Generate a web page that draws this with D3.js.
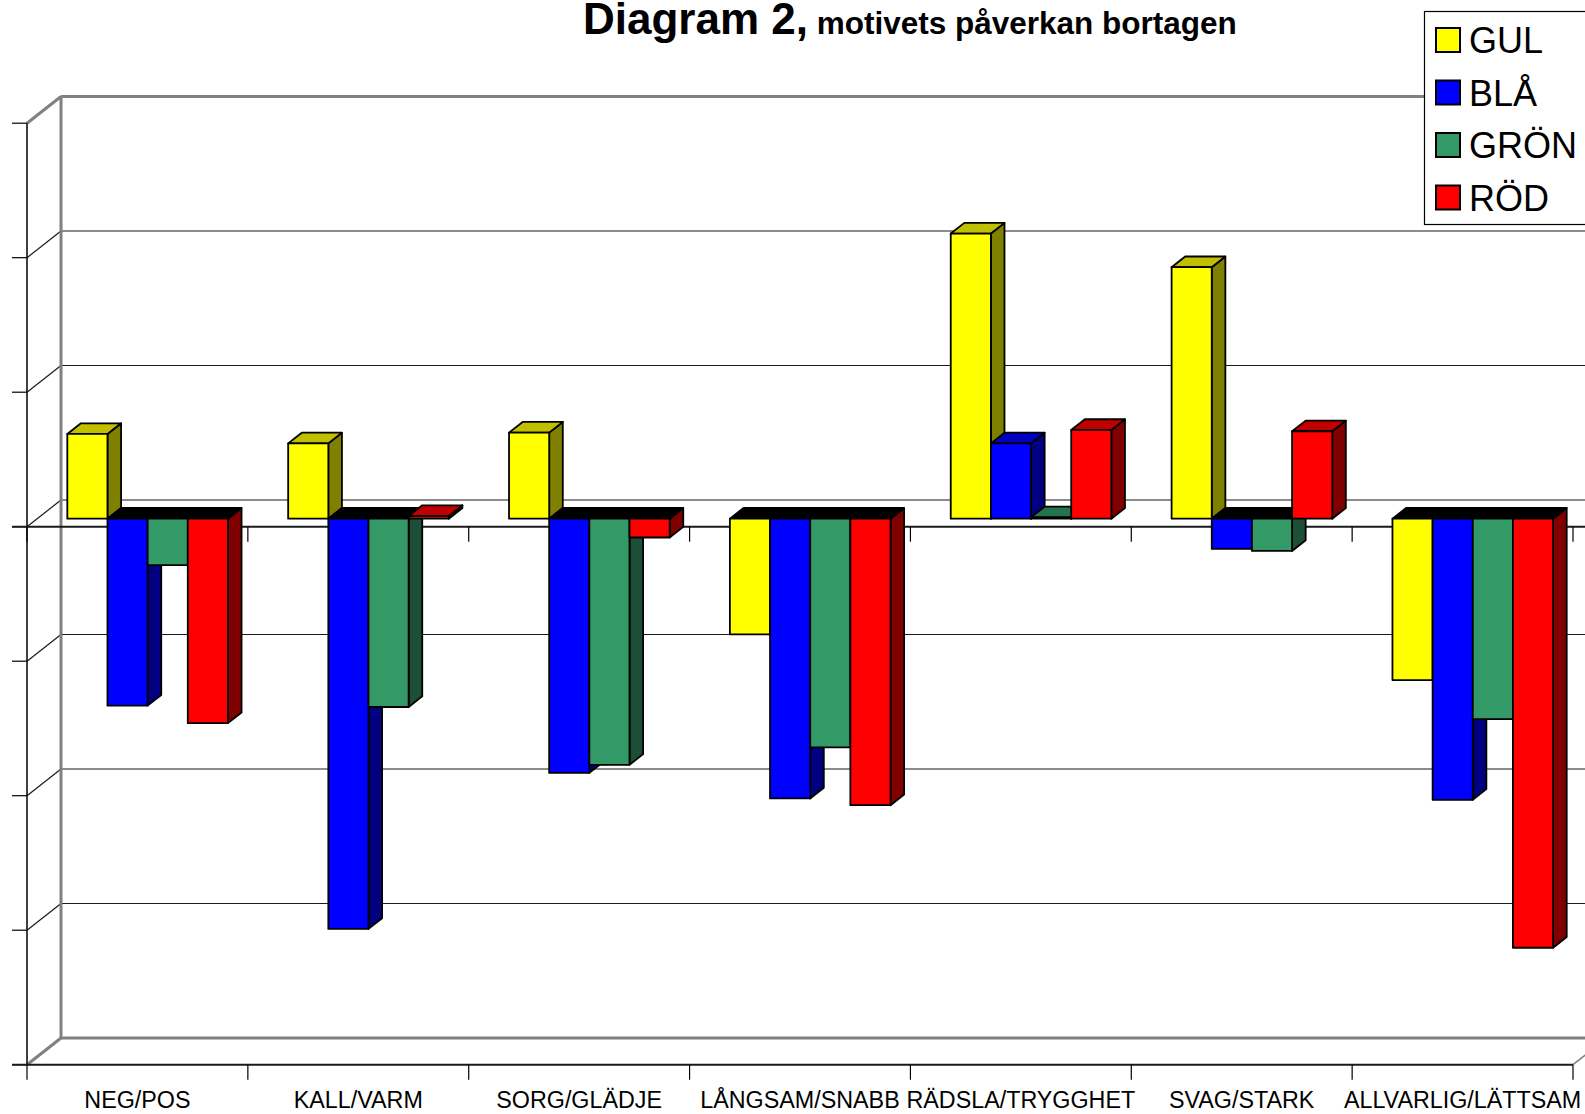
<!DOCTYPE html>
<html>
<head>
<meta charset="utf-8">
<script src="https://cdn.jsdelivr.net/npm/d3@7"></script>
<style>
  html, body { margin: 0; padding: 0; background: #fff; }
  svg { display: block; font-family: "Liberation Sans", Arial, sans-serif; }
</style>
</head>
<body>
<svg id="chart" width="1585" height="1114"></svg>
<script>
// ---- data ----
const categories = ["NEG/POS", "KALL/VARM", "SORG/GLÄDJE", "LÅNGSAM/SNABB", "RÄDSLA/TRYGGHET", "SVAG/STARK", "ALLVARLIG/LÄTTSAM"];
const seriesNames = ["GUL", "BLÅ", "GRÖN", "RÖD"];
const gul  = [0.63, 0.56, 0.64, -0.86, 2.12, 1.87, -1.20];
const bla  = [-1.39, -3.05, -1.89, -2.08, 0.56, -0.225, -2.09];
const gron = [-0.345, -1.40, -1.83, -1.70, 0.01, -0.24, -1.49];
const rod  = [-1.52, 0.02, -0.14, -2.13, 0.66, 0.65, -3.19];
const valueTicks = [-4, -3, -2, -1, 0, 1, 2, 3];
const titleMain = "Diagram 2,";
const titleSub = "motivets påverkan bortagen";

const seriesValues = [gul, bla, gron, rod];
const frontColors = ["#FFFF00", "#0000FF", "#339966", "#FF0000"];
const topColors   = ["#C0C000", "#0000C0", "#267350", "#C00000"];
const sideColors  = ["#808000", "#000080", "#1C4F36", "#800000"];

// ---- geometry ----
const svg = d3.select("#chart");
const X0 = 27, X1 = 1573;
const DX = 34, DY = 26.7;        // depth projection
const zF = 0.3, zB = 0.7;        // bar depth slab

const y = d3.scaleLinear().domain([-4, 3]).range([1064.7, 123.2]);
const xCat = d3.scaleBand().domain(categories).range([X0, X1]).padding(0);
const xSer = d3.scaleBand().domain(seriesNames).range([0, xCat.bandwidth()])
  .paddingInner(0).paddingOuter(0.75);

const P = (x, v, z) => [x + z * DX, y(v) - z * DY];
const poly = pts => pts.map(p => p.join(",")).join(" ");

// ---- walls & gridlines ----
const g = svg.append("g");
const vmin = d3.min(valueTicks), vmax = d3.max(valueTicks);

valueTicks.forEach(v => {
  const edge = (v === vmin || v === vmax);
  const a = P(X0, v, 1), b = P(X1 + 200, v, 1);
  g.append("line").attr("x1", a[0]).attr("y1", a[1]).attr("x2", b[0]).attr("y2", b[1])
    .attr("stroke", edge ? "#808080" : "#1a1a1a").attr("stroke-width", edge ? 3 : 1.2);
  const f = P(X0, v, 0);
  g.append("line").attr("x1", f[0]).attr("y1", f[1]).attr("x2", a[0]).attr("y2", a[1])
    .attr("stroke", edge ? "#808080" : "#1a1a1a").attr("stroke-width", edge ? 3 : 1.2);
  g.append("line").attr("x1", X0 - 15).attr("y1", f[1]).attr("x2", X0).attr("y2", f[1])
    .attr("stroke", "#000").attr("stroke-width", 1.2);
});
{
  const a = P(X0, vmax, 1), b = P(X0, vmin, 1);
  g.append("line").attr("x1", a[0]).attr("y1", a[1]).attr("x2", b[0]).attr("y2", b[1])
    .attr("stroke", "#808080").attr("stroke-width", 3);
}
{
  const a = P(X1, vmin, 0), b = P(X1, vmin, 1);
  g.append("line").attr("x1", a[0]).attr("y1", a[1]).attr("x2", b[0]).attr("y2", b[1])
    .attr("stroke", "#808080").attr("stroke-width", 1.5);
}
g.append("line").attr("x1", X0).attr("y1", y(vmax)).attr("x2", X0).attr("y2", y(vmin))
  .attr("stroke", "#000").attr("stroke-width", 1.5);

const boundaries = categories.map(c => xCat(c)).concat([X1]);
g.append("line").attr("x1", X0 - 15).attr("y1", y(0)).attr("x2", 1585).attr("y2", y(0))
  .attr("stroke", "#1a1a1a").attr("stroke-width", 2);
boundaries.forEach(bx => {
  g.append("line").attr("x1", bx).attr("y1", y(0)).attr("x2", bx).attr("y2", y(0) + 15)
    .attr("stroke", "#000").attr("stroke-width", 1.2);
});

// ---- bars ----
const bars = svg.append("g").attr("stroke", "#000").attr("stroke-width", 1.8)
  .attr("stroke-linejoin", "round");
categories.forEach((c, ci) => {
  seriesNames.forEach((s, si) => {
    const v = seriesValues[si][ci];
    const xl = xCat(c) + xSer(s), xr = xl + xSer.bandwidth();
    const top = Math.max(0, v), bot = Math.min(0, v);
    bars.append("polygon").attr("fill", sideColors[si])
      .attr("points", poly([P(xr, top, zF), P(xr, top, zB), P(xr, bot, zB), P(xr, bot, zF)]));
    bars.append("polygon").attr("fill", v >= 0 ? topColors[si] : "#000")
      .attr("points", poly([P(xl, top, zF), P(xr, top, zF), P(xr, top, zB), P(xl, top, zB)]));
    bars.append("polygon").attr("fill", frontColors[si])
      .attr("points", poly([P(xl, top, zF), P(xr, top, zF), P(xr, bot, zF), P(xl, bot, zF)]));
  });
});

// ---- bottom category axis ----
const axG = svg.append("g");
axG.append("line").attr("x1", X0 - 15).attr("y1", y(vmin)).attr("x2", X1).attr("y2", y(vmin))
  .attr("stroke", "#1a1a1a").attr("stroke-width", 2);
boundaries.forEach(bx => {
  axG.append("line").attr("x1", bx).attr("y1", y(vmin)).attr("x2", bx).attr("y2", y(vmin) + 15)
    .attr("stroke", "#000").attr("stroke-width", 1.2);
});
axG.selectAll("text.cat").data(categories).join("text")
  .attr("class", "cat")
  .attr("x", d => xCat(d) + xCat.bandwidth() / 2)
  .attr("y", 1108)
  .attr("text-anchor", "middle")
  .attr("font-size", 23.3)
  .attr("fill", "#000")
  .text(d => d);

// ---- title ----
const t = svg.append("text").attr("x", 583).attr("y", 34).attr("font-weight", "bold").attr("fill", "#000");
t.append("tspan").attr("font-size", 44).text(titleMain);
t.append("tspan").attr("font-size", 31.5).text(" " + titleSub);

// ---- legend ----
const lg = svg.append("g");
lg.append("rect").attr("x", 1424.5).attr("y", 11.5).attr("width", 200).attr("height", 213)
  .attr("fill", "#fff").attr("stroke", "#000").attr("stroke-width", 1.2);
seriesNames.forEach((s, i) => {
  const yy = 28 + i * 52.5;
  lg.append("rect").attr("x", 1436).attr("y", yy).attr("width", 24).attr("height", 24)
    .attr("fill", frontColors[i]).attr("stroke", "#000").attr("stroke-width", 2);
  lg.append("text").attr("x", 1469).attr("y", yy + 25).attr("font-size", 36)
    .attr("fill", "#000").text(s);
});
</script>
</body>
</html>
